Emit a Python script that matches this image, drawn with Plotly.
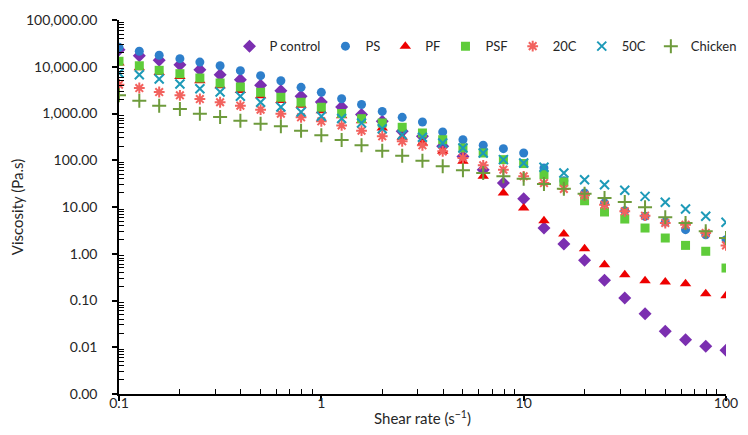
import plotly.graph_objects as go

shear_rate = [0.1, 0.126, 0.158, 0.2, 0.251, 0.316, 0.398, 0.501, 0.631, 0.794,
              1, 1.26, 1.58, 2, 2.51, 3.16, 3.98, 5.01, 6.31, 7.94,
              10, 12.6, 15.8, 20, 25.1, 31.6, 39.8, 50.1, 63.1, 79.4, 100]

p_control = [23200, 17200, 13700, 11100, 8650, 6760, 5290, 4010, 3080, 2330,
             1760, 1380, 950, 680, 416, 325, 199, 121, 62.8, 32.6,
             15.1, 3.55, 1.62, 0.724, 0.270, 0.113, 0.052, 0.0219, 0.0145, 0.0105, 0.0086]
ps = [26000, 21400, 17600, 14900, 12600, 10500, 8240, 6440, 5030, 3630,
      2840, 2070, 1560, 1110, 829, 658, 402, 275, 209, 177,
      143, 68.3, 36.5, 19.9, 12.2, 8.34, 6.32, 4.78, 3.27, 2.55, 2.0]
pf = [12000, 9500, 7500, 6200, 5000, 3900, 3100, 2400, 1900, 1500,
      1150, 900, 700, 489, 310, 234, 155, 95, 45.4, 19.9,
      9.52, 5.09, 2.64, 1.28, 0.583, 0.356, 0.265, 0.249, 0.229, 0.140, 0.127]
psf = [13100, 10500, 8390, 7100, 5740, 4490, 3690, 2840, 2220, 1740,
       1360, 1000, 774, 627, 507, 383, 275, 183, 143, 103,
       85, 49.1, 34.3, 13.6, 7.82, 5.53, 3.55, 2.17, 1.51, 1.13, 0.495]
c20 = [4130, 3510, 2880, 2450, 2040, 1740, 1470, 1210, 990, 829,
       681, 555, 429, 325, 254, 209, 155, 112, 78, 62.8,
       45.4, 32.6, 24.3, 17.8, 11.2, 8.09, 6.52, 4.55, 4.18, 2.78, 1.51]
c50 = [7350, 6760, 5470, 4280, 3390, 2880, 2330, 1740, 1380, 1080,
       871, 780, 627, 473, 352, 310, 234, 183, 143, 103,
       87.3, 70.7, 53.4, 38.4, 30.0, 22.8, 16.9, 12.6, 9.06, 6.32, 4.71]
chicken = [2450, 1880, 1470, 1250, 990, 841, 702, 605, 532, 429,
           342, 270, 209, 160, 125, 97.8, 74.3, 61.0, 53.4, 45.4,
           40.3, 31.0, 24.6, 19.2, 15.6, 12.8, 9.86, 6.02, 4.55, 3.02, 2.17]

y_tickvals = [0.001, 0.01, 0.1, 1, 10, 100, 1000, 10000, 100000]
y_ticktext = ["0.00", "0.01", "0.10", "1.00", "10.00", "100.00", "1,000.00", "10,000.00", "100,000.00"]
x_tickvals = [0.1, 1, 10, 100]
x_ticktext = ["0.1", "1", "10", "100"]

series = [
    ("P control", p_control, "diamond", "#7B2FB0", 10, None),
    ("PS", ps, "circle", "#2E7FCB", 9, None),
    ("PF", pf, "triangle-up", "#EE0000", 10, None),
    ("PSF", psf, "square", "#5FCC3A", 9, None),
    ("20C", c20, "asterisk-open", "#F2625E", 9, 2),
    ("50C", c50, "x-thin-open", "#1E9AB8", 9, 2),
    ("Chicken", chicken, "cross-thin-open", "#6E9B3C", 10, 2),
]

fig = go.Figure()
for name, vals, sym, col, size, lw in series:
    marker = dict(symbol=sym, color=col, size=size)
    if lw:
        marker["line"] = dict(color=col, width=lw)
    else:
        marker["line"] = dict(width=0)
    fig.add_trace(go.Scatter(x=shear_rate, y=vals, mode="markers", name=name, marker=marker))

minor_y = [m * 10 ** e for e in range(-3, 5) for m in range(2, 10)]
minor_x = [m * 10 ** e for e in range(-1, 2) for m in range(2, 10)]

font_family = "Lato, 'Open Sans', sans-serif"

fig.update_layout(
    width=748, height=435,
    margin=dict(l=111, r=30, t=12, b=49, autoexpand=False),
    plot_bgcolor="white", paper_bgcolor="white",
    font=dict(family=font_family, size=14, color="#262626"),
    showlegend=True,
    legend=dict(orientation="h", x=0.182, xanchor="left", y=0.93, yanchor="middle",
                font=dict(size=13, color="#262626"), itemwidth=30, bgcolor="rgba(0,0,0,0)",
                tracegroupgap=0),
    xaxis=dict(type="log", range=[-1, 2], tickmode="array", tickvals=x_tickvals, ticktext=x_ticktext,
               showgrid=False, zeroline=False, showline=True, linecolor="black", linewidth=1.5,
               ticks="outside", ticklen=5, tickcolor="black", tickwidth=1.5,
               ticklabelstandoff=-10, automargin=False,
               minor=dict(tickmode="array", tickvals=minor_x, ticks="inside", ticklen=5,
                          tickcolor="black", tickwidth=1, showgrid=False),
               title=dict(text="Shear rate (s<sup>−1</sup>)", font=dict(size=15), standoff=4),
               tickfont=dict(size=14)),
    yaxis=dict(type="log", range=[-3, 5], tickmode="array", tickvals=y_tickvals, ticktext=y_ticktext,
               showgrid=False, zeroline=False, showline=True, linecolor="black", linewidth=1.5,
               ticks="outside", ticklen=5, tickcolor="black", tickwidth=1.5,
               ticklabelstandoff=12, automargin=False,
               minor=dict(tickmode="array", tickvals=minor_y, ticks="inside", ticklen=5,
                          tickcolor="black", tickwidth=1, showgrid=False),
               title=dict(text="Viscosity (Pa.s)", font=dict(size=15), standoff=6),
               tickfont=dict(size=14)),
)

fig.write_html("out.html")
